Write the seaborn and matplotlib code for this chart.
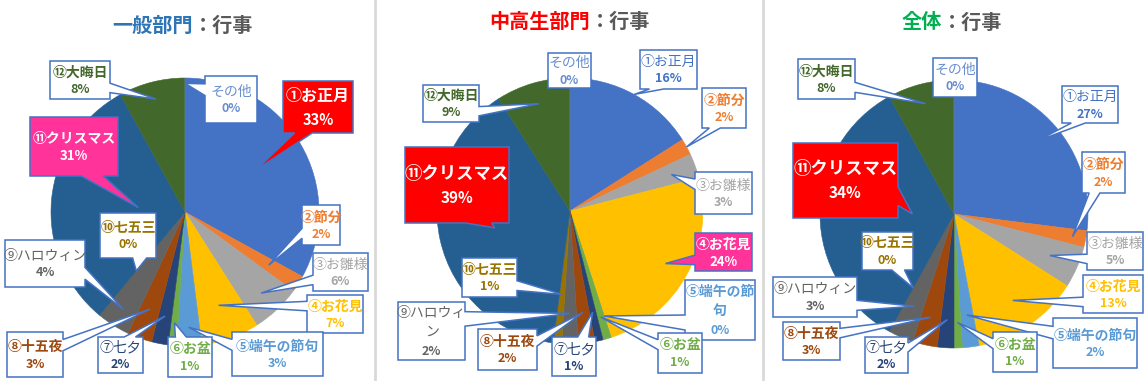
import numpy as np
import matplotlib
matplotlib.use("Agg")
import matplotlib.pyplot as plt
from matplotlib.patches import Polygon
import seaborn as sns

# ---------------- data ----------------
events = ["①お正月", "②節分", "③お雛様", "④お花見", "⑤端午の節句", "⑥お盆",
          "⑦七夕", "⑧十五夜", "⑨ハロウィン", "⑩七五三", "⑪クリスマス", "⑫大晦日", "その他"]
general = [33, 2, 6, 7, 3, 1, 2, 3, 4, 0, 31, 8, 0]
junior = [16, 2, 3, 24, 0, 1, 1, 2, 2, 1, 39, 9, 0]
overall = [27, 2, 5, 13, 2, 1, 2, 3, 3, 0, 34, 8, 0]
title_main = ["一般部門", "中高生部門", "全体"]
title_sub = "：行事"

# ---------------- style ----------------
sns.set_theme(style="white")
plt.rcParams['font.family'] = ['Noto Sans CJK JP', 'DejaVu Sans']

colors = sns.color_palette(["#4472C4", "#ED7D31", "#A5A5A5", "#FFC000", "#5B9BD5", "#70AD47",
                            "#264478", "#9E480E", "#636363", "#997300", "#255E91", "#43682B",
                            "#698ED0"])
title_colors = ["#2E75B6", "#FF0000", "#00B050"]
BORDER = "#4472C4"
RED = "#FF0000"
PINK = "#FF3399"
bold_names = {1, 3, 4, 5, 7, 9, 10, 11}

W, H = 1144, 381

# layout: pie center/radius (px), title centre, callout boxes (px), tip radius fractions
layouts = [
    dict(c=(185, 212), R=134, t=(183, 25),
         boxes=[(283, 81, 353, 133), (302, 205, 340, 245), (313, 253, 368, 291), (307, 295, 363, 333),
                (232, 332, 323, 376), (168, 337, 212, 377), (98, 337, 143, 373), (7, 332, 63, 377),
                (5, 240, 85, 287), (100, 213, 156, 258), (30, 117, 118, 176), (50, 61, 110, 99),
                (205, 76, 257, 123)],
         rf=[.61, .74, .83, .74, .86, .83, .79, .77, .86, .57, .35, .87, .96],
         fill={0: (RED, "big1"), 10: (PINK, "mid")}, wrap={}),
    dict(c=(570, 211), R=133, t=(570, 21),
         boxes=[(640, 50, 697, 89), (702, 88, 746, 128), (695, 172, 752, 214), (695, 233, 752, 271),
                (685, 280, 755, 340), (658, 333, 702, 373), (552, 337, 596, 376), (478, 329, 537, 370),
                (398, 302, 465, 360), (462, 258, 517, 297), (405, 147, 509, 223), (423, 85, 479, 122),
                (548, 53, 591, 88)],
         rf=[1.0, 1.0, .81, .82, .83, .83, .78, .77, .77, .63, .58, .84, 1.0],
         fill={10: (RED, "big"), 3: (PINK, "mid")}, wrap={4: 5, 8: 5}),
    dict(c=(954, 214), R=134, t=(952, 22),
         boxes=[(1062, 86, 1118, 123), (1082, 152, 1125, 193), (1087, 232, 1143, 270), (1083, 275, 1143, 313),
                (1053, 318, 1137, 368), (993, 332, 1037, 372), (865, 337, 908, 373), (783, 322, 840, 360),
                (773, 277, 857, 317), (862, 232, 913, 270), (793, 143, 898, 218), (798, 59, 855, 99),
                (933, 58, 977, 97)],
         rf=[.82, .9, .78, .78, .76, .81, .79, .79, .75, .63, .31, .85, 1.0],
         fill={10: (RED, "big")}, wrap={}),
]
series = [general, junior, overall]


def callout_poly(x0, y0, x1, y1, tx, ty):
    w, h = x1 - x0, y1 - y0
    cx, cy = (x0 + x1) / 2, (y0 + y1) / 2
    dx, dy = tx - cx, ty - cy
    TL, TR, BR, BL = (x0, y0), (x1, y0), (x1, y1), (x0, y1)
    if x0 <= tx <= x1 and y0 <= ty <= y1:
        return [TL, TR, BR, BL]
    tip = (tx, ty)
    if abs(dy) * w >= abs(dx) * h:
        a, b = (x0 + 7 * w / 12, x0 + 10 * w / 12) if dx > 0 else (x0 + 2 * w / 12, x0 + 5 * w / 12)
        if dy < 0:
            return [TL, (a, y0), tip, (b, y0), TR, BR, BL]
        return [TL, TR, BR, (b, y1), tip, (a, y1), BL]
    a, b = (y0 + 7 * h / 12, y0 + 10 * h / 12) if dy > 0 else (y0 + 2 * h / 12, y0 + 5 * h / 12)
    if dx > 0:
        return [TL, TR, (x1, a), tip, (x1, b), BR, BL]
    return [TL, TR, BR, BL, (x0, b), tip, (x0, a)]


fig = plt.figure(figsize=(W / 100, H / 100), dpi=100)
fig.patch.set_facecolor("white")

pie_axes = []
for lay, vals in zip(layouts, series):
    cx, cy = lay["c"]
    R = lay["R"]
    ax = fig.add_axes([(cx - R) / W, (H - cy - R) / H, 2 * R / W, 2 * R / H])
    wedges, _ = ax.pie(vals, colors=colors, startangle=90, counterclock=False, radius=1)
    for wdg in wedges:
        wdg.set_edgecolor(wdg.get_facecolor())
        wdg.set_linewidth(0.4)
    ax.set_xlim(-1, 1)
    ax.set_ylim(-1, 1)
    ax.set_aspect("equal")
    ax.axis("off")
    pie_axes.append(ax)

ov = fig.add_axes([0, 0, 1, 1])
ov.set_xlim(0, W)
ov.set_ylim(H, 0)
ov.axis("off")
ov.set_zorder(10)
ov.patch.set_visible(False)

# separators between panels
for xs in (375, 763):
    ov.plot([xs, xs], [0, H], color="#D9D9D9", lw=2)

renderer = fig.canvas.get_renderer()
inv = ov.transData.inverted()

sizes = {"big": (12.5, 11, 24), "big1": (11.5, 10.5, 24), "mid": (10, 9.5, 17)}

for k, (lay, vals, ax) in enumerate(zip(layouts, series, pie_axes)):
    # title
    tx, ty = lay["t"]
    t1 = ov.text(0, ty, title_main[k], color=title_colors[k], fontsize=14.5, fontweight="bold",
                 ha="left", va="center")
    t2 = ov.text(0, ty, title_sub, color="#595959", fontsize=14.5, fontweight="bold",
                 ha="left", va="center")
    w1 = t1.get_window_extent(renderer).width
    w2 = t2.get_window_extent(renderer).width
    start = tx - (w1 + w2) / 2
    t1.set_x(start)
    t2.set_x(start + w1)

    total = float(sum(vals))
    cum = np.cumsum([0] + list(vals))
    for i, name in enumerate(events):
        mid = (cum[i] + cum[i + 1]) / 2 / total * 2 * np.pi
        r = lay["rf"][i]
        px, py = inv.transform(ax.transData.transform((r * np.sin(mid), r * np.cos(mid))))
        x0, y0, x1, y1 = lay["boxes"][i]
        if i in lay["fill"]:
            face, size = lay["fill"][i]
            tcol = "white"
        else:
            face, size = "white", "small"
            tcol = colors[i]
        poly = Polygon(callout_poly(x0, y0, x1, y1, px, py), closed=True, facecolor=face,
                       edgecolor=BORDER, lw=1.1, joinstyle="miter")
        ov.add_patch(poly)
        wrap = lay["wrap"].get(i)
        lines = [name] if wrap is None else [name[:wrap], name[wrap:]]
        pct = f"{vals[i]:.0f}%"
        if size in sizes:
            fs_n, fs_p, s = sizes[size]
        else:
            fs_n, fs_p, s = 10, 9, (17 if wrap is None else 19.5)
        allines = lines + [pct]
        n = len(allines)
        ccx, ccy = (x0 + x1) / 2, (y0 + y1) / 2
        for j, txt in enumerate(allines):
            yy = ccy + 1 + (j - (n - 1) / 2) * s
            is_pct = j == n - 1
            weight = "bold" if (is_pct or size != "small" or i in bold_names) else "normal"
            ov.text(ccx, yy, txt, color=tcol, fontsize=fs_p if is_pct else fs_n,
                    fontweight=weight, ha="center", va="center")

fig.savefig("out.png", dpi=100, facecolor="white")
